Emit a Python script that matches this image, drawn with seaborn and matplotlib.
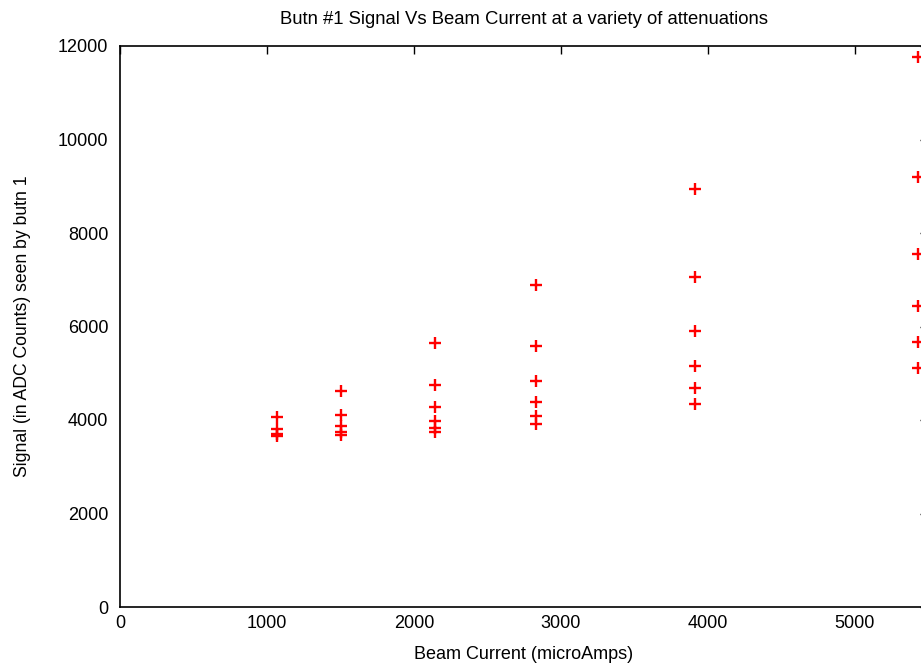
import matplotlib
matplotlib.use("Agg")
import matplotlib.pyplot as plt
import seaborn as sns
import pandas as pd

# Beam current columns (microAmps) and the signals measured at each
current_1 = [1068] * 4
signal_1 = [4064, 3807, 3700, 3658]
current_2 = [1503] * 5
signal_2 = [4620, 4107, 3872, 3743, 3686]
current_3 = [2143] * 6
signal_3 = [5653, 4755, 4272, 3985, 3829, 3743]
current_4 = [2830] * 6
signal_4 = [6881, 5589, 4834, 4378, 4092, 3921]
current_5 = [3912] * 6
signal_5 = [8941, 7065, 5904, 5155, 4678, 4349]
current_6 = [5429] * 6
signal_6 = [11772, 9204, 7551, 6439, 5662, 5119]

x_ticks = [0, 1000, 2000, 3000, 4000, 5000]
y_ticks = [0, 2000, 4000, 6000, 8000, 10000, 12000]

df = pd.DataFrame({
    "current": current_1 + current_2 + current_3 + current_4 + current_5 + current_6,
    "signal": signal_1 + signal_2 + signal_3 + signal_4 + signal_5 + signal_6,
})

sns.set_style("white")
plt.rcParams["font.family"] = ["Liberation Sans", "DejaVu Sans"]
plt.rcParams["text.color"] = "black"
plt.rcParams["axes.labelcolor"] = "black"

fig = plt.figure(figsize=(9.21, 6.64), dpi=100)
ax = fig.add_axes([120 / 921, 1 - 607 / 664, (928 - 120) / 921, (607 - 46) / 664])

sns.scatterplot(data=df, x="current", y="signal", marker="+", color="#ff0000",
                s=65, linewidth=1.7, ax=ax, legend=False)

ax.set_xlim(0, 5500)
ax.set_ylim(0, 12000)
ax.set_xticks(x_ticks)
ax.set_yticks(y_ticks)
ax.tick_params(direction="in", top=True, right=True, length=6, width=1,
               labelsize=13, colors="black")
ax.tick_params(axis="x", pad=6)
ax.tick_params(axis="y", pad=8.5)
for sp in ax.spines.values():
    sp.set_color("black")
    sp.set_linewidth(1.2)

ax.set_xlabel("Beam Current (microAmps)", fontsize=13, labelpad=9.5, color="black")
ax.set_ylabel("Signal (in ADC Counts) seen by butn 1", fontsize=12.7, labelpad=19,
              color="black")
ax.set_title("Butn #1 Signal Vs Beam Current at a variety of attenuations",
             fontsize=13.3, pad=15.5, color="black")

fig.savefig("out.png", dpi=100)
